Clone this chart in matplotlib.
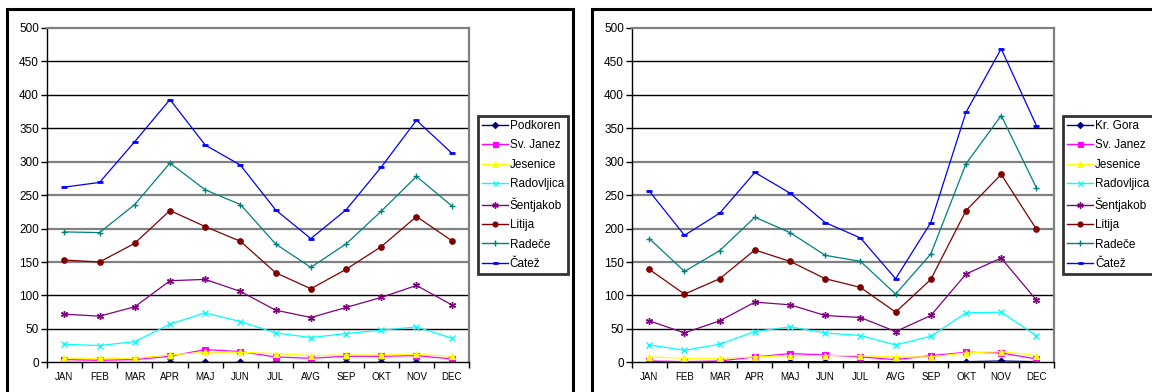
import matplotlib.pyplot as plt
from matplotlib.patches import Rectangle
from matplotlib.ticker import FixedLocator

plt.rcParams['font.family'] = ['Liberation Sans', 'DejaVu Sans']

months = ['JAN', 'FEB', 'MAR', 'APR', 'MAJ', 'JUN', 'JUL', 'AVG', 'SEP', 'OKT', 'NOV', 'DEC']

# first chart
podkoren = [1, 1, 1, 1, 1, 1, 1, 1, 1, 1, 1, 1]
sv_janez_1 = [4, 3, 4, 9, 19, 16, 8, 6, 9, 9, 10, 5]
jesenice_1 = [6, 6, 6, 11, 15, 15, 13, 10, 11, 11, 12, 9]
radovljica_1 = [27, 25, 31, 57, 74, 61, 44, 37, 43, 48, 53, 36]
sentjakob_1 = [72, 69, 83, 122, 124, 106, 78, 67, 82, 97, 115, 86]
litija_1 = [153, 150, 178, 227, 203, 181, 134, 110, 139, 173, 218, 182]
radece_1 = [195, 194, 236, 298, 258, 236, 177, 142, 177, 226, 278, 234]
catez_1 = [262, 269, 330, 393, 325, 295, 228, 185, 228, 292, 362, 313]

# second chart
kr_gora = [1, 1, 1, 1, 1, 1, 1, 1, 1, 1, 2, 1]
sv_janez_2 = [2, 1, 2, 8, 13, 11, 8, 4, 10, 15, 14, 5]
jesenice_2 = [8, 6, 6, 8, 10, 10, 10, 8, 8, 14, 16, 10]
radovljica_2 = [26, 18, 27, 46, 53, 44, 40, 26, 39, 74, 75, 40]
sentjakob_2 = [62, 44, 62, 90, 86, 70, 67, 46, 70, 132, 156, 93]
litija_2 = [139, 102, 125, 168, 151, 125, 112, 75, 124, 227, 281, 199]
radece_2 = [185, 136, 167, 217, 194, 160, 151, 102, 162, 297, 369, 261]
catez_2 = [256, 190, 223, 284, 253, 209, 186, 125, 209, 374, 469, 354]

names_1 = ['Podkoren', 'Sv. Janez', 'Jesenice', 'Radovljica', 'Šentjakob', 'Litija', 'Radeče', 'Čatež']
names_2 = ['Kr. Gora', 'Sv. Janez', 'Jesenice', 'Radovljica', 'Šentjakob', 'Litija', 'Radeče', 'Čatež']
series_1 = [podkoren, sv_janez_1, jesenice_1, radovljica_1, sentjakob_1, litija_1, radece_1, catez_1]
series_2 = [kr_gora, sv_janez_2, jesenice_2, radovljica_2, sentjakob_2, litija_2, radece_2, catez_2]

# excel-like colours and markers
styles = [
    dict(color='#000080', marker='D', ms=3.5),
    dict(color='#FF00FF', marker='s', ms=4),
    dict(color='#FFFF00', marker='^', ms=5),
    dict(color='#00FFFF', marker='x', ms=4, mew=1),
    dict(color='#800080', marker=(6, 2, 0), ms=5, mew=1),
    dict(color='#800000', marker='o', ms=4),
    dict(color='#008080', marker='+', ms=5, mew=1),
    dict(color='#0000FF', marker='_', ms=4, mew=2),
]
yticks = [0, 50, 100, 150, 200, 250, 300, 350, 400, 450, 500]
grid_gray = [150, 200, 250, 300]

W, H = 1152, 392
fig = plt.figure(figsize=(W / 100, H / 100), dpi=100)


def fx(px):
    return px / W


def fy(py):
    return 1 - py / H


def draw_panel(x0, x1, legend_x, names, series):
    ax = fig.add_axes([fx(x0), fy(362.3), fx(x1 - x0), (362.3 - 28) / H])
    x = list(range(len(months)))
    for vals, st in zip(series, styles):
        ax.plot(x, vals, lw=0.9, color=st['color'], marker=st['marker'],
                markersize=st['ms'], markeredgewidth=st.get('mew', 0.8),
                markerfacecolor=st['color'], markeredgecolor=st['color'])
    ax.set_xlim(-0.5, 11.5)
    ax.set_ylim(0, 500)
    for v in yticks[1:-1]:
        gray = v in grid_gray
        ax.axhline(v, color='#808080' if gray else 'black', lw=1.6 if gray else 1.0, zorder=0)
    ax.set_yticks(yticks)
    ax.set_xticks(x)
    ax.set_xticklabels(months, fontsize=7)
    ax.xaxis.set_minor_locator(FixedLocator([i - 0.5 for i in range(13)]))
    ax.tick_params(axis='x', which='major', length=0, pad=7)
    ax.tick_params(axis='x', which='minor', length=4, width=1, direction='out')
    ax.tick_params(axis='y', length=4, width=1, labelsize=8.5, pad=1.5)
    for s in ('top', 'right'):
        ax.spines[s].set_color('#808080')
        ax.spines[s].set_linewidth(1.6)
    for s in ('left', 'bottom'):
        ax.spines[s].set_color('black')
        ax.spines[s].set_linewidth(1.0)
    handles = [plt.Line2D([], [], lw=1, color=st['color'], marker=st['marker'],
                          markersize=st['ms'] * 0.9, markeredgewidth=st.get('mew', 0.8),
                          markerfacecolor=st['color'], markeredgecolor=st['color'])
               for st in styles]
    leg = fig.legend(handles, names, loc='upper left',
                     bbox_to_anchor=(fx(legend_x), fy(116)), fontsize=8.5,
                     frameon=True, fancybox=False, edgecolor='black',
                     handlelength=2.2, handletextpad=0.15, labelspacing=0.62,
                     borderpad=0.35, borderaxespad=0)
    leg.get_frame().set_linewidth(2)
    return ax


draw_panel(46.7, 469.3, 478, names_1, series_1)
draw_panel(631.7, 1054, 1063, names_2, series_2)

# black outer frames round each chart
for left, right in ((6.5, 572.5), (591.5, 1170)):
    fig.patches.append(Rectangle((fx(left), fy(420)), fx(right - left), (420 - 9) / H,
                                 transform=fig.transFigure, fill=False,
                                 edgecolor='black', lw=2.2, clip_on=False))

fig.savefig('out.png', dpi=100)
